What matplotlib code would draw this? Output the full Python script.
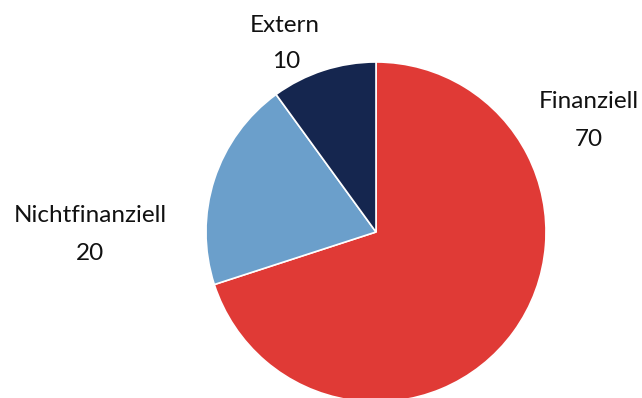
import matplotlib
matplotlib.use("Agg")
import matplotlib.pyplot as plt

labels = ["Finanziell", "Nichtfinanziell", "Extern"]
values = [70, 20, 10]
colors = ["#e03a36", "#6b9fcb", "#15264f"]

# label anchor points in pixel coordinates (x, y from top)
label_pos = [(589, 102), (90, 215), (285, 26)]
value_pos = [(589, 140), (90, 253), (286, 62)]

W, H = 642, 398
fig = plt.figure(figsize=(W / 100, H / 100), dpi=100)
ax = fig.add_axes([0, 0, 1, 1])

ax.pie(values, colors=colors, center=(376, H - 232), radius=170,
       startangle=90, counterclock=False,
       wedgeprops=dict(edgecolor="white", linewidth=1.2))
ax.set_xlim(0, W)
ax.set_ylim(0, H)
ax.set_aspect("equal")
ax.axis("off")

for lab, val, (x, y), (vx, vy) in zip(labels, values, label_pos, value_pos):
    ax.text(x, H - y, lab, ha="center", va="center", fontsize=17.5,
            family="Lato", color="#111111")
    ax.text(vx, H - vy, str(val), ha="center", va="center",
            fontsize=17.5, family="Lato", color="#111111")

fig.savefig("out.png", dpi=100)
